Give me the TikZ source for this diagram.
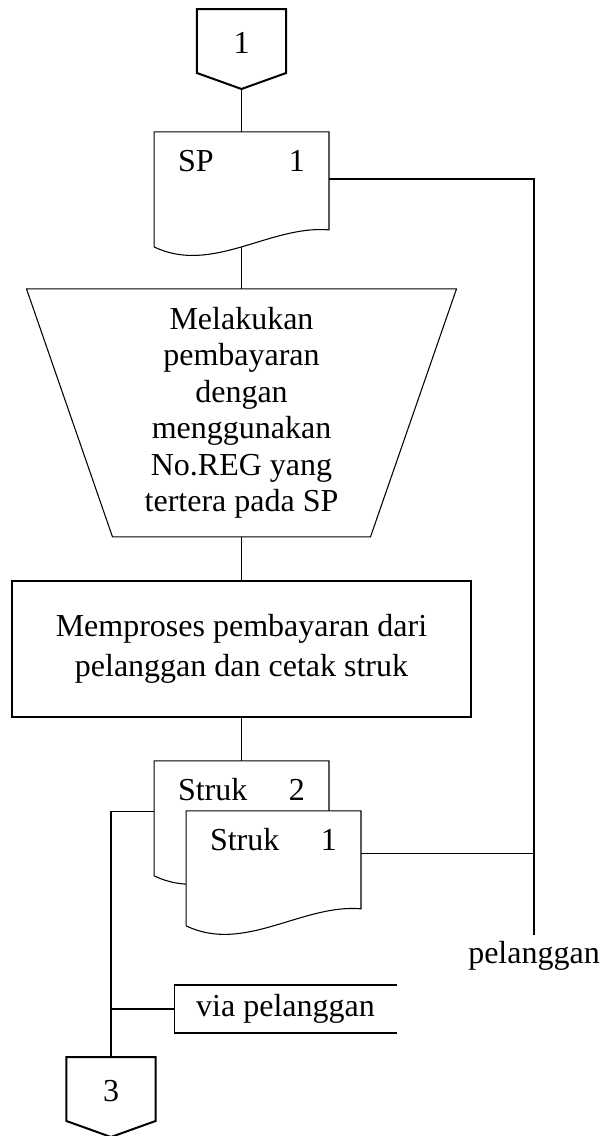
\documentclass[tikz,border=0pt]{standalone}
\usepackage{fontspec}
\setmainfont{Liberation Serif}
\usetikzlibrary{positioning,calc,backgrounds}

\newcommand{\docout}[1]{%
  \begin{pgfonlayer}{background}
  \draw[fill=white] (#1.north west) -- (#1.north east) -- ($(#1.south east)+(0,-17)$)
    .. controls +(-59,-5) and +(58,28) .. (#1.south west) -- cycle;
  \end{pgfonlayer}}
\newcommand{\pageout}[1]{%
  \draw (#1.north west) -- (#1.north east) -- (#1.south east)
    -- ($(#1.south)+(0,16)$) coordinate (#1-tip) -- (#1.south west) -- cycle;}

\begin{document}
\begin{tikzpicture}[x=0.375pt,y=-0.375pt,line width=0.75pt,font=\fontsize{12}{15}\selectfont,every node/.style={outer sep=0pt}]
		\tikzstyle{conn}=[rectangle, minimum width=33.4pt, minimum height=24pt, inner ysep=0pt, text height=16.5pt, text depth=7.5pt]
		\tikzstyle{docu}=[rectangle, minimum width=65.6pt, text width=47.6pt, inner xsep=9pt, inner ysep=0pt, text height=15pt, text depth=28.1pt]
		\tikzstyle{manual}=[rectangle, minimum width=161.25pt, minimum height=93pt, align=center, font=\fontsize{12}{13.7}\selectfont]
		\tikzstyle{proc}=[rectangle, draw, minimum width=172.1pt, minimum height=51pt, align=center]
		\tikzstyle{note}=[rectangle, minimum width=83.6pt, minimum height=18pt]

		\useasboundingbox (0,0) rectangle (610,1136);

		\node [conn] (c1) at (241.5,41) {1};
		\node [docu] (sp) [below=22.1pt of c1] {SP\hfill 1};
		\node [manual] (tr) [below=15.75pt of sp] {Melakukan\\pembayaran\\dengan\\menggunakan\\No.REG yang\\tertera pada SP};
		\node [proc] (pr) [below=16.5pt of tr] {Memproses pembayaran dari\\pelanggan dan cetak struk};
		\node [docu] (st2) [below=16.5pt of pr] {Struk\hfill 2};
		\node [docu] (st1) at ($(st2)+(32,50)$) {Struk\hfill 1};
		\node [anchor=base] (pel) at (534,963) {pelanggan};
		\node [note] (via) at (285.5,1009) {via pelanggan};
		\node [conn] (c3) at (111,1089) {3};

		% shapes
		\pageout{c1}
		\pageout{c3}
		\docout{sp}
		\docout{st2}
		\docout{st1}
		\draw (tr.north west) -- (tr.north east) -- ($(tr.south east)+(-86,0)$) -- ($(tr.south west)+(86,0)$) -- cycle;
		\draw (via.north east) -- (via.north west) -- (via.south west) -- (via.south east);

		% flow
		\draw (c1-tip) -- (sp);
		\draw (sp.south) -- (tr);
		\draw (tr) -- (pr);
		\draw (pr) -- (st2);
		\draw ([yshift=3.9pt]sp.east) -| ([yshift=-1pt]pel.north);
		\draw ([yshift=5.6pt]st1.east) -- ([yshift=5.6pt]st1.east -| pel.north);
		\draw ([yshift=2.6pt]st2.west) -| (c3.north);
		\draw (via.west -| c3.north) -- (via.west);
	\end{tikzpicture}
\end{document}
